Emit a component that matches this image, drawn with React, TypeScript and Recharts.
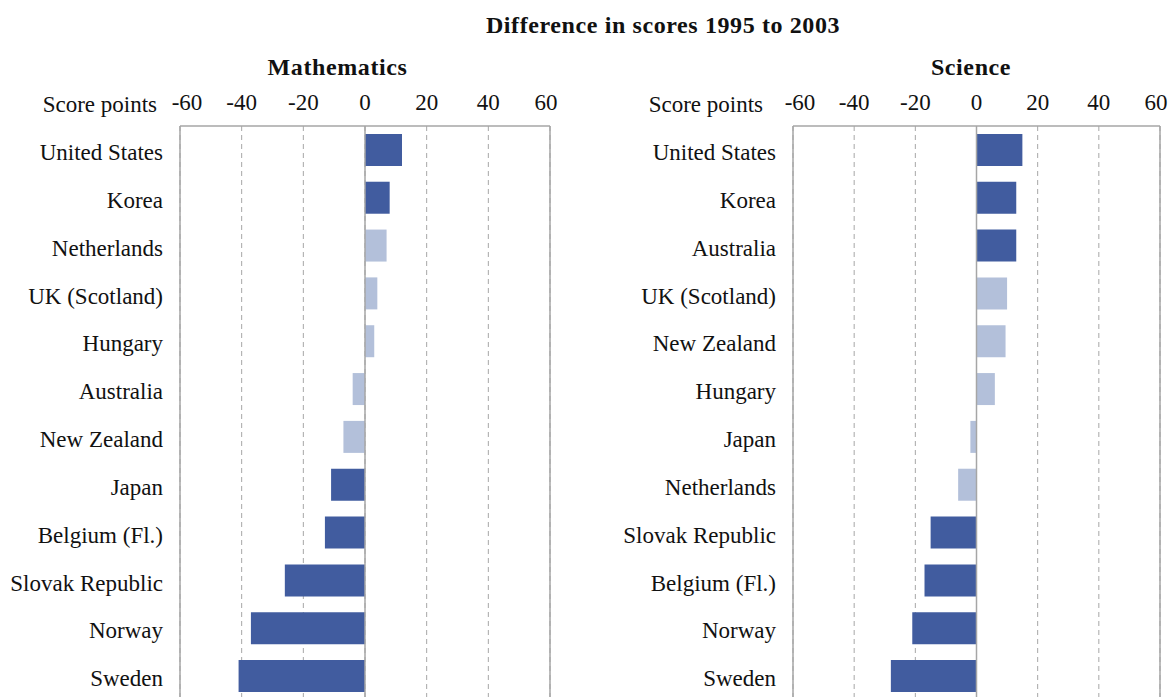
import { Bar, BarChart, CartesianGrid, Cell, ReferenceLine, XAxis, YAxis } from "recharts";

const mathCountries = [
  "United States",
  "Korea",
  "Netherlands",
  "UK (Scotland)",
  "Hungary",
  "Australia",
  "New Zealand",
  "Japan",
  "Belgium (Fl.)",
  "Slovak Republic",
  "Norway",
  "Sweden",
];
const mathValues = [12, 8, 7, 4, 3, -4, -7, -11, -13, -26, -37, -41];
const mathSignificant = [true, true, false, false, false, false, false, true, true, true, true, true];

const scienceCountries = [
  "United States",
  "Korea",
  "Australia",
  "UK (Scotland)",
  "New Zealand",
  "Hungary",
  "Japan",
  "Netherlands",
  "Slovak Republic",
  "Belgium (Fl.)",
  "Norway",
  "Sweden",
];
const scienceValues = [15, 13, 13, 10, 9.5, 6, -2, -6, -15, -17, -21, -28];
const scienceSignificant = [true, true, true, false, false, false, false, false, true, true, true, true];

const scoreTicks = [-60, -40, -20, 0, 20, 40, 60];

const DARK = "#415C9F";
const LIGHT = "#B3C0DA";
const GREY = "#A6A6A6";
const FONT = '"Liberation Serif", "Times New Roman", serif';

type Row = { country: string; value: number; significant: boolean };

function buildRows(countries: string[], values: number[], significant: boolean[]): Row[] {
  return countries.map((country, i) => ({
    country,
    value: values[i],
    significant: significant[i],
  }));
}

function ScoreTick(props: any) {
  const { x, y, payload } = props;
  // end labels sit a little inside the box, as in the original
  const shift = payload.value === -60 ? 7 : payload.value === 60 ? -4 : 0;
  return (
    <text
      x={x + shift}
      y={y}
      textAnchor="middle"
      fontFamily={FONT}
      fontSize={23}
      fill="#111"
    >
      {payload.value}
    </text>
  );
}

type PanelProps = {
  rows: Row[];
  left: number;
  width: number;
  labelWidth: number;
};

function Panel({ rows, left, width, labelWidth }: PanelProps) {
  return (
    <div style={{ position: "absolute", left, top: 0 }}>
      <BarChart
        width={width}
        height={700}
        data={rows}
        layout="vertical"
        margin={{ top: 0, right: 9, bottom: 0, left: 0 }}
        barCategoryGap="16.5%"
      >
        <CartesianGrid horizontal={false} stroke={GREY} strokeDasharray="5 4" />
        <XAxis
          type="number"
          orientation="top"
          domain={[-60, 60]}
          ticks={scoreTicks}
          height={126}
          axisLine={{ stroke: GREY, strokeWidth: 1.5 }}
          tickLine={false}
          tickSize={0}
          tickMargin={16}
          tick={<ScoreTick />}
          interval={0}
        />
        <YAxis
          type="category"
          dataKey="country"
          width={labelWidth}
          axisLine={false}
          tickLine={false}
          tickSize={0}
          tickMargin={17}
          interval={0}
          tick={{ fontFamily: FONT, fontSize: 23, fill: "#111", dy: 2 }}
        />
        <ReferenceLine x={-60} stroke={GREY} strokeWidth={1.5} />
        <ReferenceLine x={60} stroke={GREY} strokeWidth={1.5} />
        <Bar dataKey="value" isAnimationActive={false}>
          {rows.map((row) => (
            <Cell key={row.country} fill={row.significant ? DARK : LIGHT} />
          ))}
        </Bar>
        <ReferenceLine x={0} stroke={GREY} strokeWidth={1.5} />
      </BarChart>
    </div>
  );
}

const textStyle = {
  position: "absolute" as const,
  fontFamily: FONT,
  color: "#111",
  whiteSpace: "nowrap" as const,
  lineHeight: 1,
};

export default function App() {
  const mathRows = buildRows(mathCountries, mathValues, mathSignificant);
  const scienceRows = buildRows(scienceCountries, scienceValues, scienceSignificant);

  return (
    <div
      style={{
        position: "absolute",
        left: 0,
        top: 0,
        width: 1169,
        height: 697,
        overflow: "hidden",
        background: "#fff",
      }}
    >
      <Panel rows={mathRows} left={0} width={559} labelWidth={180} />
      <Panel rows={scienceRows} left={600} width={569} labelWidth={193} />

      <div
        style={{
          ...textStyle,
          left: 0,
          width: 1326,
          top: 13,
          textAlign: "center",
          fontWeight: "bold",
          fontSize: 24,
          letterSpacing: 0.6,
        }}
      >
        Difference in scores 1995 to 2003
      </div>
      <div
        style={{
          ...textStyle,
          left: 0,
          width: 675,
          top: 55,
          textAlign: "center",
          fontWeight: "bold",
          fontSize: 24,
          letterSpacing: 0.6,
        }}
      >
        Mathematics
      </div>
      <div
        style={{
          ...textStyle,
          left: 871,
          width: 200,
          top: 55,
          textAlign: "center",
          fontWeight: "bold",
          fontSize: 24,
          letterSpacing: 0.6,
        }}
      >
        Science
      </div>
      <div style={{ ...textStyle, left: 0, width: 157, top: 93, textAlign: "right", fontSize: 23 }}>
        Score points
      </div>
      <div style={{ ...textStyle, left: 600, width: 163, top: 93, textAlign: "right", fontSize: 23 }}>
        Score points
      </div>
    </div>
  );
}
